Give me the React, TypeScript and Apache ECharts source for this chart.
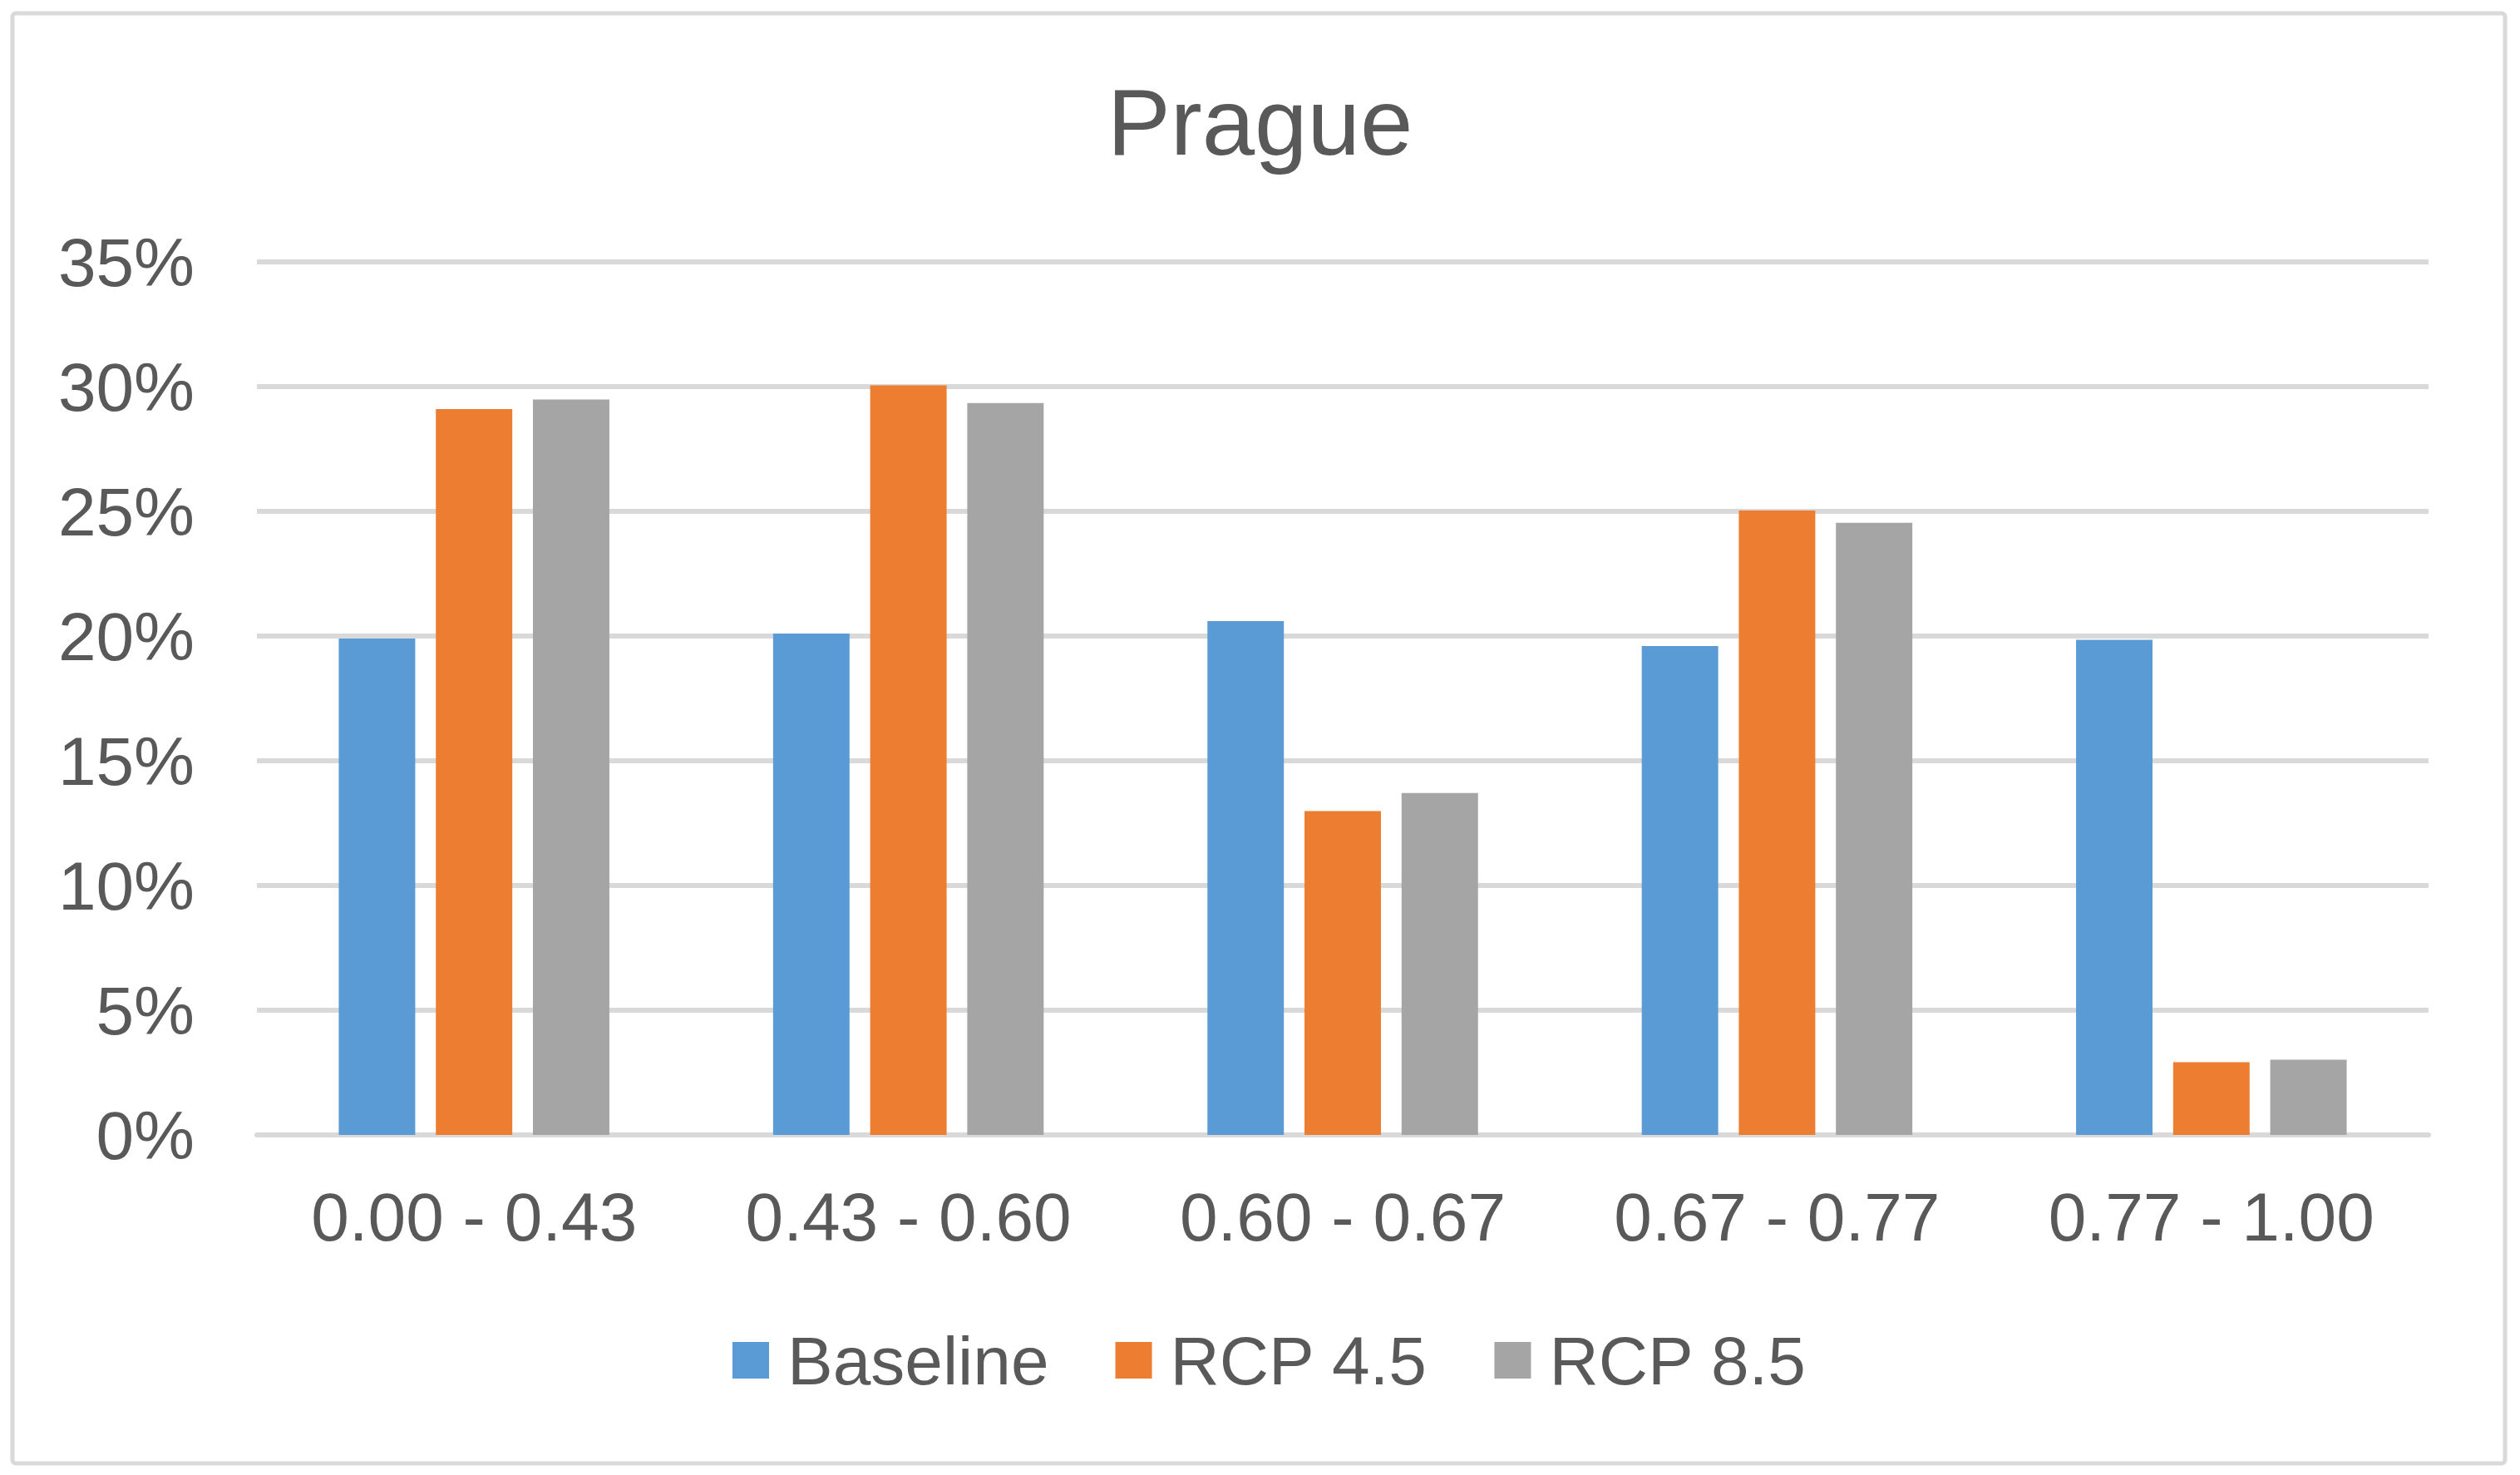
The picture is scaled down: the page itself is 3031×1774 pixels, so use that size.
import React, { useEffect, useRef } from "react";
import * as echarts from "echarts";

const categories = ["0.00 - 0.43", "0.43 - 0.60", "0.60 - 0.67", "0.67 - 0.77", "0.77 - 1.00"];
const baseline = [19.9, 20.1, 20.6, 19.6, 19.85];
const rcp45 = [29.1, 30.05, 12.98, 25.03, 2.92];
const rcp85 = [29.48, 29.34, 13.71, 24.54, 3.02];
const seriesNames = ["Baseline", "RCP 4.5", "RCP 8.5"];
const colors = ["#5B9BD5", "#ED7D31", "#A5A5A5"];

const FONT = "'Liberation Sans', Arial, sans-serif";
const TEXT = "#595959";
const GRID = "#D9D9D9";

export default function App() {
  const ref = useRef<HTMLDivElement>(null);
  useEffect(() => {
    if (!ref.current) return;
    const chart = echarts.init(ref.current, null, { renderer: "svg" });
    const data = [baseline, rcp45, rcp85];
    chart.setOption({
      animation: false,
      backgroundColor: "#ffffff",
      title: {
        text: "Prague",
        left: "center",
        top: 84,
        textStyle: { fontFamily: FONT, fontSize: 114, fontWeight: "normal", color: TEXT, lineHeight: 114 },
      },
      graphic: [
        {
          type: "rect",
          shape: { x: 15, y: 16, width: 2998, height: 1744, r: 4 },
          style: { fill: "none", stroke: GRID, lineWidth: 5 },
          silent: true,
        },
      ],
      grid: { left: 309, right: 110, top: 315, bottom: 409, containLabel: false },
      legend: {
        data: seriesNames,
        left: 876,
        top: 1590,
        icon: "rect",
        itemWidth: 44,
        itemHeight: 44,
        itemGap: 80,
        textStyle: { fontFamily: FONT, fontSize: 82, color: TEXT, padding: [0, 0, 0, 17] },
      },
      xAxis: {
        type: "category",
        data: categories,
        axisLine: { show: true, lineStyle: { color: GRID, width: 6 } },
        axisTick: { show: false },
        axisLabel: { fontFamily: FONT, fontSize: 82, color: TEXT, margin: 57 },
      },
      yAxis: {
        type: "value",
        min: 0,
        max: 35,
        interval: 5,
        axisLine: { show: false },
        axisTick: { show: false },
        axisLabel: { fontFamily: FONT, fontSize: 82, color: TEXT, margin: 75, formatter: "{value}%" },
        splitLine: { lineStyle: { color: GRID, width: 6 } },
      },
      series: seriesNames.map((name, i) => ({
        name,
        type: "bar",
        data: data[i],
        barWidth: "17.6%",
        barGap: "27%",
        itemStyle: { color: colors[i] },
      })),
    });
    return () => chart.dispose();
  }, []);
  return (
    <div
      ref={ref}
      style={{ position: "absolute", left: 0, top: 0, width: 3031, height: 1774 }}
    />
  );
}
